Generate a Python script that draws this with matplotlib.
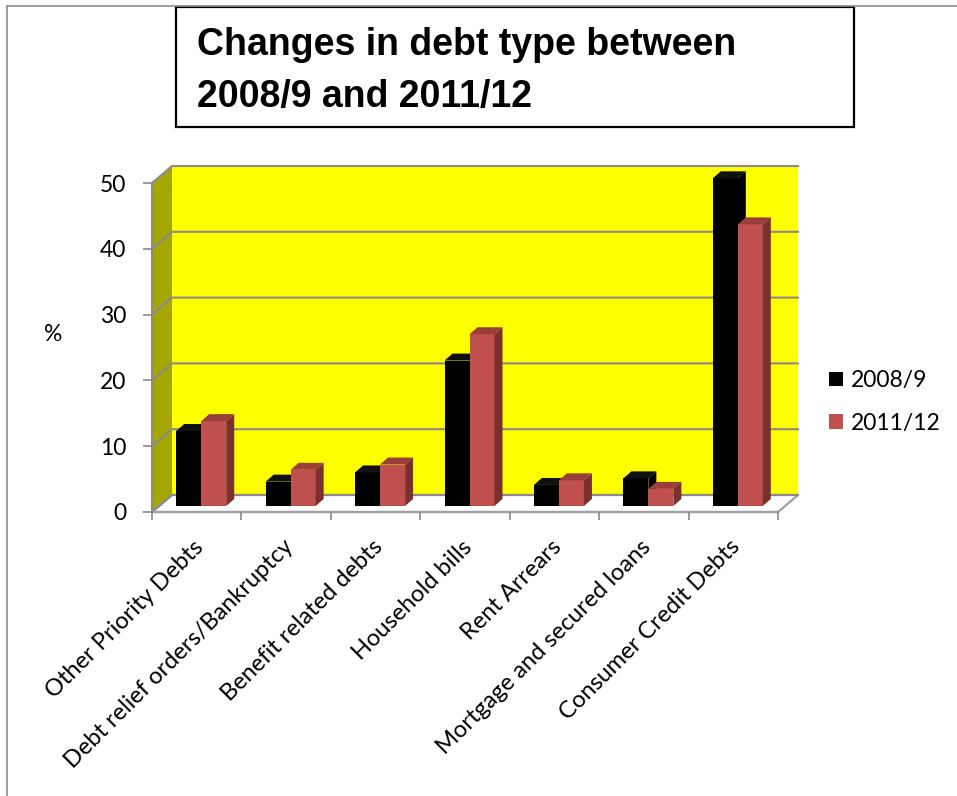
import matplotlib
matplotlib.use("Agg")
import matplotlib.pyplot as plt
from matplotlib.patches import Rectangle, Polygon, Patch
from matplotlib.lines import Line2D
from matplotlib.transforms import ScaledTranslation

categories = ["Other Priority Debts", "Debt relief orders/Bankruptcy",
              "Benefit related debts", "Household bills", "Rent Arrears",
              "Mortgage and secured loans", "Consumer Credit Debts"]
series_names = ["2008/9", "2011/12"]
values_0809 = [11.4, 3.7, 5.1, 22.1, 3.2, 4.2, 49.8]
values_1112 = [12.9, 5.5, 6.3, 26.1, 3.9, 2.6, 42.8]
y_ticks = [0, 10, 20, 30, 40, 50]
title_lines = ["Changes in debt type between", "2008/9 and 2011/12"]

W, H = 957, 796
FONT = ["Lato", "DejaVu Sans"]
GRID = "#8a8a8a"
FACES = [("#000000", "#111111", "#000000"),      # front, top, side
         ("#C0504D", "#9A3E3C", "#7A302F")]

fig = plt.figure(figsize=(W / 100, H / 100), dpi=100)

# plot area: x=-0.5 at 152px, x=6.5 at 778px; y=0 at 512px, y=50 at 183px
L, R, B, T = 152, 778, 512, 183
ax = fig.add_axes([L / W, (H - B) / H, (R - L) / W, (B - T) / H])
ax.set_xlim(-0.5, 6.5)
ax.set_ylim(0, 50)
ax.set_facecolor("none")

ppx = (R - L) / 7.0       # pixels per category
ppy = (B - T) / 50.0      # pixels per unit


def px(dx, dy):
    return dx / ppx, dy / ppy


# walls (depth offset 20px right, 17px up)
wdx, wdy = px(20, 17)
x0, x1 = -0.5, 6.5
ax.add_patch(Rectangle((x0 + wdx, wdy), x1 - x0, 50, facecolor="#FFFF00",
                       edgecolor="none", zorder=0.5, clip_on=False))
ax.add_patch(Polygon([(x0, 0), (x0, 50), (x0 + wdx, 50 + wdy), (x0 + wdx, wdy)],
                     closed=True, facecolor="#A6A600", edgecolor="none",
                     zorder=0.5, clip_on=False))
ax.add_patch(Polygon([(x0, 0), (x1, 0), (x1 + wdx, wdy), (x0 + wdx, wdy)],
                     closed=True, facecolor="white", edgecolor="#A0A0A0",
                     lw=1.6, zorder=0.6, clip_on=False))
for v in y_ticks:
    ax.plot([x0, x0 + wdx, x1 + wdx], [v, v + wdy, v + wdy], color=GRID,
            lw=1.5, zorder=0.7, clip_on=False)

# bars with a small 3-D look
bx, by = px(4.5, 6)
ddx, ddy = px(8, 7)
bw = 25 / ppx
for j, vals in enumerate([values_0809, values_1112]):
    front, top, side = FACES[j]
    xs = [i - bw + j * bw + bx for i in range(len(categories))]
    ax.bar(xs, vals, width=bw, bottom=by, align="edge", color=front,
           zorder=3 + j, clip_on=False)
    for xl, h in zip(xs, vals):
        yt = by + h
        ax.add_patch(Polygon([(xl, yt), (xl + bw, yt), (xl + bw + ddx, yt + ddy),
                              (xl + ddx, yt + ddy)], closed=True, facecolor=top,
                             edgecolor="none", zorder=3 + j, clip_on=False))
        ax.add_patch(Polygon([(xl + bw, by), (xl + bw, yt), (xl + bw + ddx, yt + ddy),
                              (xl + bw + ddx, by + ddy)], closed=True, facecolor=side,
                             edgecolor="none", zorder=3 + j, clip_on=False))

# axes, ticks and labels
for s in ["top", "right", "bottom"]:
    ax.spines[s].set_visible(False)
ax.spines["left"].set_color(GRID)
ax.spines["left"].set_linewidth(1.5)
ax.plot([x0, x1], [0, 0], color="#A0A0A0", lw=1.6, zorder=0.8, clip_on=False)

ax.set_yticks(y_ticks)
ax.set_yticklabels([str(v) for v in y_ticks], fontfamily=FONT, fontsize=16.5)
ax.tick_params(axis="y", length=6.5, width=1.2, color=GRID, pad=12)

ax.set_xticks([i - 0.5 for i in range(len(categories) + 1)], minor=True)
ax.tick_params(axis="x", which="minor", length=6, width=1.2, color=GRID)
ax.set_xticks(range(len(categories)))
ax.set_xticklabels(categories, rotation=45, ha="right", rotation_mode="anchor",
                   fontfamily=FONT, fontsize=17)
ax.tick_params(axis="x", which="major", length=0, pad=17.5)
shift = ScaledTranslation(-4 / 100, 0, fig.dpi_scale_trans)
for lab in ax.get_xticklabels():
    lab.set_transform(lab.get_transform() + shift)

fig.text(53 / W, (H - 335) / H, "%", fontfamily=FONT, fontsize=16.5,
         ha="center", va="center")

# legend
handles = [Patch(facecolor=FACES[0][0], edgecolor="none"),
           Patch(facecolor=FACES[1][0], edgecolor="none")]
fig.legend(handles, series_names, loc="upper left",
           bbox_to_anchor=(829 / W, (H - 370) / H), frameon=False,
           prop={"family": FONT, "size": 16.5}, handlelength=0.62,
           handleheight=0.62, handletextpad=0.35, labelspacing=0.95,
           borderpad=0, borderaxespad=0)

# title box and outer frame
fig.add_artist(Rectangle((176 / W, (H - 127) / H), 678 / W, 120 / H,
                         transform=fig.transFigure, facecolor="white",
                         edgecolor="black", lw=1.6))
for line, base in zip(title_lines, [55, 107]):
    fig.text(197 / W, (H - base) / H, line, fontfamily="Liberation Sans",
             fontweight="bold", fontsize=27, ha="left", va="baseline")
fig.add_artist(Line2D([7 / W, 7 / W], [0, (H - 6) / H], transform=fig.transFigure,
                      color="#8c8c8c", lw=1.2))
fig.add_artist(Line2D([7 / W, 1], [(H - 6) / H, (H - 6) / H],
                      transform=fig.transFigure, color="#8c8c8c", lw=1.2))

fig.savefig("out.png", dpi=100)
